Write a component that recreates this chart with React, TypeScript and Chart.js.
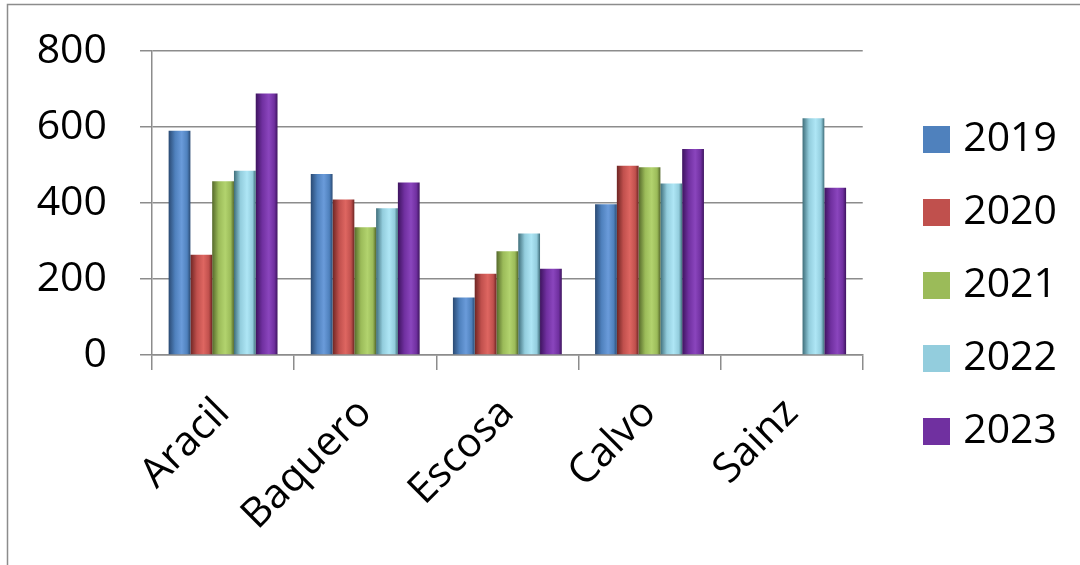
import React, { useEffect, useRef } from "react";
import { Chart, registerables } from "chart.js";

Chart.register(...registerables);

const categories = ["Aracil", "Baquero", "Escosa", "Calvo", "Sainz"];
const seriesNames = ["2019", "2020", "2021", "2022", "2023"];
const values2019 = [590, 476, 151, 397, null];
const values2020 = [264, 409, 214, 498, null];
const values2021 = [457, 336, 273, 494, null];
const values2022 = [485, 386, 320, 451, 623];
const values2023 = [688, 454, 227, 542, 440];
const seriesValues = [values2019, values2020, values2021, values2022, values2023];
const yTicks = [0, 200, 400, 600, 800];

const baseColors = ["#4F81BD", "#C0504D", "#9BBB59", "#93CDDD", "#7030A0"];
const darkColors = ["#2A4A73", "#6E2523", "#55692B", "#3F6E7A", "#3E145F"];
const lightColors = ["#6A9BDA", "#DE6661", "#B2D36E", "#AEE6F5", "#8A45BD"];

const FONT = "'Open Sans', 'DejaVu Sans', sans-serif";
const FSIZE = 41;
const GRID = "#8C8C8C";

function barFill(ctx: any, i: number) {
  const el = ctx.element;
  if (!el || typeof el.x !== "number" || !isFinite(el.x) || !el.width) return baseColors[i];
  const c = ctx.chart.ctx as CanvasRenderingContext2D;
  const x0 = el.x - el.width / 2;
  const x1 = el.x + el.width / 2;
  const g = c.createLinearGradient(x0, 0, x1, 0);
  g.addColorStop(0, darkColors[i]);
  g.addColorStop(0.3, baseColors[i]);
  g.addColorStop(0.6, lightColors[i]);
  g.addColorStop(0.85, baseColors[i]);
  g.addColorStop(1, darkColors[i]);
  return g;
}

function squareImage(color: string) {
  const cv = document.createElement("canvas");
  cv.width = 27;
  cv.height = 27;
  const c = cv.getContext("2d")!;
  c.fillStyle = color;
  c.fillRect(0, 0, 27, 27);
  return cv;
}

const framePlugin = {
  id: "frame",
  beforeDraw(chart: any) {
    const c = chart.ctx as CanvasRenderingContext2D;
    c.save();
    c.fillStyle = "#ffffff";
    c.fillRect(0, 0, chart.width, chart.height);
    c.strokeStyle = "#8C8C8C";
    c.lineWidth = 1.5;
    c.beginPath();
    c.moveTo(7.5, chart.height);
    c.lineTo(7.5, 4.5);
    c.lineTo(chart.width, 4.5);
    c.stroke();
    c.restore();
  },
};

export default function App() {
  const ref = useRef<HTMLCanvasElement>(null);
  useEffect(() => {
    if (!ref.current) return;
    const squares = baseColors.map(squareImage);
    const chart = new Chart(ref.current, {
      type: "bar",
      data: {
        labels: categories,
        datasets: seriesNames.map((name, i) => ({
          label: name,
          data: seriesValues[i],
          backgroundColor: (ctx: any) => barFill(ctx, i),
          borderWidth: 0,
          categoryPercentage: 0.766,
          barPercentage: 1,
        })),
      },
      options: {
        animation: false,
        responsive: true,
        maintainAspectRatio: false,
        layout: { padding: { left: 0, top: 51, right: 13, bottom: 46 } },
        plugins: {
          tooltip: { enabled: false },
          legend: {
            position: "right",
            align: "center",
            labels: {
              usePointStyle: true,
              pointStyleWidth: 12,
              boxWidth: 12,
              boxHeight: 27,
              padding: 32,
              color: "#000",
              font: { family: FONT, size: FSIZE },
              generateLabels: () =>
                seriesNames.map((name, i) => ({
                  text: name,
                  fillStyle: baseColors[i],
                  strokeStyle: baseColors[i],
                  lineWidth: 0,
                  pointStyle: squares[i],
                  hidden: false,
                  datasetIndex: i,
                })),
            },
          },
        },
        scales: {
          x: {
            offset: true,
            grid: {
              display: true,
              offset: true,
              drawOnChartArea: false,
              drawTicks: true,
              tickLength: 15,
              color: GRID,
              lineWidth: 1.5,
            },
            border: { display: true, color: GRID, width: 1.5 },
            ticks: {
              color: "#000",
              font: { family: FONT, size: FSIZE },
              maxRotation: 45,
              minRotation: 45,
              autoSkip: false,
              padding: 19,
            },
            afterFit: (s: any) => {
              s.height = 164;
              s._computeLabelArea = () => undefined;
            },
          },
          y: {
            min: 0,
            max: 800,
            afterBuildTicks: (s: any) => {
              s.ticks = yTicks.map((v) => ({ value: v }));
            },
            grid: {
              color: GRID,
              lineWidth: 1.5,
              drawTicks: true,
              tickLength: 12,
            },
            border: { display: true, color: GRID, width: 1.5 },
            ticks: {
              color: "#000",
              font: { family: FONT, size: FSIZE },
              padding: 33,
            },
            afterFit: (s: any) => {
              s.width = 152;
              s.paddingTop = 0;
              s.paddingBottom = 0;
            },
          },
          y2: {
            position: "right",
            display: true,
            grid: { display: false, drawTicks: false },
            border: { display: false },
            ticks: { display: false },
            afterFit: (s: any) => {
              s.width = 36;
              s.paddingTop = 0;
              s.paddingBottom = 0;
            },
          },
        },
      },
      plugins: [framePlugin],
    } as any);
    chart.update();
    return () => chart.destroy();
  }, []);
  return (
    <div style={{ position: "absolute", left: 0, top: 0, width: 1080, height: 565 }}>
      <canvas ref={ref} />
    </div>
  );
}
